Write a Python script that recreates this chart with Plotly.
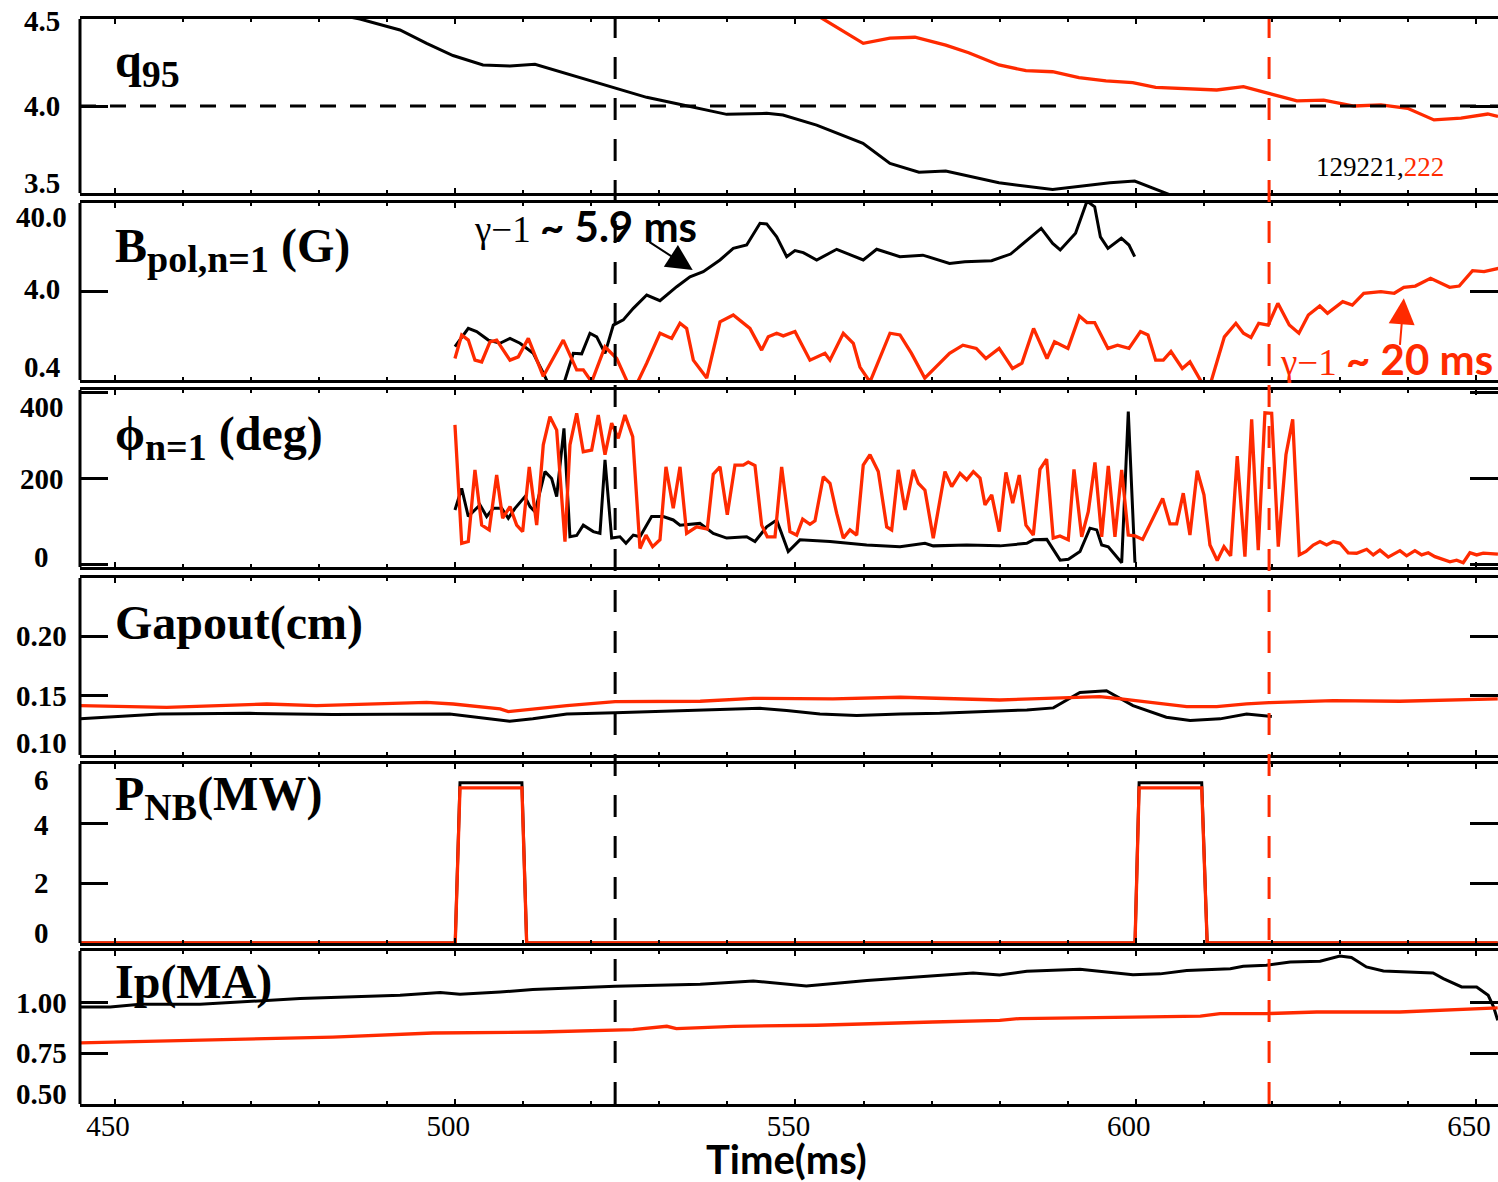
import math
import plotly.graph_objects as go

# ---------------- data ----------------
# q95
q95_t_a = [444.9, 470.0, 486.0, 491.88, 495.80, 499.67, 504.08, 508.05, 511.72, 515.39, 519.32,
           523.72, 528.13, 533.47, 539.89, 545.77, 548.16, 553.11, 559.92, 563.89, 568.15,
           572.08, 579.90, 587.79, 596.22, 599.85, 604.59, 607.0]
q95_a = [4.8, 4.62, 4.50, 4.437, 4.36, 4.29, 4.236, 4.23, 4.24, 4.197, 4.149,
         4.10, 4.05, 4.006, 3.952, 3.958, 3.948, 3.89, 3.786, 3.67, 3.62,
         3.626, 3.559, 3.52, 3.559, 3.569, 3.50, 3.46]
q95_t_b = [549.0, 554.08, 559.96, 563.89, 567.56, 572.08, 575.45, 579.90, 583.87, 587.79, 591.66,
           595.63, 599.56, 602.93, 607.97, 611.91, 615.83, 619.73, 623.69, 627.62, 632.07,
           636.04, 639.95, 643.83, 647.80, 651.74, 653.24]
q95_b = [4.62, 4.50, 4.36, 4.39, 4.395, 4.35, 4.306, 4.236, 4.203, 4.197, 4.163,
         4.144, 4.134, 4.107, 4.10, 4.092, 4.111, 4.073, 4.03, 4.034, 4.0,
         4.006, 3.987, 3.92, 3.93, 3.954, 3.94]
q95_ref = 4.0

# B_pol n=1 amplitude (G)
bp_t_a = [499.96, 501.92, 503.15, 504.86, 506.58, 508.05, 509.52, 511.47, 512.94, 514.66,
          516.13, 517.35, 518.58, 519.80, 520.79, 522.01, 523.23, 524.70, 526.17, 528.14,
          530.09, 532.55, 534.50, 536.45, 538.91, 540.86, 542.83, 544.79, 545.77, 547.24,
          548.71, 549.93, 551.15, 553.12, 556.06, 559.96, 561.93, 565.35, 568.72, 572.64,
          574.89, 578.82, 581.62, 586.11, 587.80, 588.91, 591.16, 592.84, 593.97, 594.81,
          595.92, 597.89, 599.01, 599.85]
bp_a = [0.95, 1.53, 1.41, 1.13, 1.04, 1.18, 1.04, 0.80, 0.48, 0.25,
        0.40, 0.80, 0.79, 1.35, 1.23, 0.80, 1.67, 1.91, 2.58, 3.65,
        3.15, 4.53, 5.87, 6.70, 9.08, 12.3, 13.4, 23.6, 23.2, 16.6,
        9.9, 11.6, 11.0, 9.08, 12.0, 9.08, 12.0, 9.9, 10.3, 8.3,
        8.7, 8.9, 10.6, 20.7, 14.0, 11.8, 18.2, 42.0, 36.3, 16.6,
        12.3, 16.0, 13.4, 9.9]
bp_t_b = [499.96, 500.95, 501.92, 502.90, 503.89, 505.11, 506.09, 508.05, 509.27, 510.74,
          512.94, 515.88, 517.85, 518.82, 520.05, 522.01, 523.73, 525.43, 526.67, 528.14,
          530.09, 531.81, 533.03, 534.01, 534.99, 536.96, 538.91, 540.86, 543.31, 545.03,
          546.00, 547.24, 548.21, 549.93, 552.13, 554.34, 555.07, 557.03, 558.50, 559.48,
          560.95, 563.89, 565.36, 567.05, 569.00, 572.64, 574.61, 576.57, 577.98, 579.93,
          581.90, 583.28, 584.99, 586.96, 588.07, 590.04, 591.72, 592.84, 593.97, 595.92,
          597.33, 599.01, 600.70, 601.80, 602.93, 604.06, 605.18, 606.85, 607.97, 609.66,
          611.06, 613.03, 614.72, 615.83, 616.94, 618.08, 619.48, 620.89, 622.57, 623.98,
          625.37, 627.05, 628.18, 630.42, 631.83, 633.51, 636.03, 638.00, 639.40, 641.09,
          643.33, 646.13, 647.54, 649.50, 651.19, 653.31]
bp_b = [0.70, 1.29, 1.13, 0.67, 0.64, 1.08, 1.13, 0.67, 0.73, 1.18,
        0.44, 1.13, 0.52, 0.52, 0.38, 0.95, 0.70, 0.36, 0.36, 0.62,
        1.35, 1.18, 1.75, 1.53, 0.67, 0.42, 1.82, 2.17, 1.53, 0.87,
        1.23, 1.35, 1.26, 1.41, 0.67, 0.80, 0.67, 1.35, 1.04, 0.56,
        0.38, 1.35, 1.29, 0.80, 0.42, 0.80, 0.99, 0.91, 0.70, 0.91,
        0.54, 0.62, 1.53, 0.70, 1.08, 0.91, 2.11, 1.78, 1.78, 0.91,
        0.99, 0.91, 1.41, 1.29, 0.67, 0.67, 0.84, 0.54, 0.64, 0.38,
        0.38, 1.23, 1.75, 1.35, 1.21, 1.75, 1.67, 2.94, 1.67, 1.35,
        2.17, 2.74, 2.27, 3.07, 2.81, 3.82, 3.98, 3.82, 4.46, 4.61,
        5.64, 4.46, 4.61, 6.87, 6.70, 7.31]

# phi n=1 (deg)
ph_t_a = [499.96, 500.95, 501.92, 502.65, 503.64, 504.62, 505.59, 506.83, 507.80, 508.78,
          510.25, 510.99, 511.72, 513.19, 514.17, 514.91, 515.98, 516.86, 517.85, 518.82,
          520.29, 521.27, 522.01, 522.99, 524.21, 525.09, 526.17, 527.15, 528.86, 530.57,
          532.04, 533.03, 535.96, 537.92, 539.89, 542.83, 544.05, 545.77, 547.24, 548.94,
          550.66, 555.07, 560.46, 565.36, 569.03, 570.25, 575.16, 580.07, 583.99, 584.96,
          586.93, 588.89, 590.11, 591.81, 593.28, 594.27, 595.00, 595.97, 597.94, 598.91,
          599.89]
ph_a = [127, 177, 112, 123, 139, 112, 131, 131, 108, 131,
        158, 135, 123, 216, 200, 158, 316, 65, 68, 92,
        77, 73, 243, 62, 65, 50, 69, 65, 112, 112,
        104, 92, 96, 73, 62, 65, 54, 88, 104, 31,
        58, 54, 46, 42, 50, 44, 46, 44, 50, 58,
        59, 11, 13, 31, 85, 81, 46, 42, 5, 355,
        5]
ph_t_b = [499.96, 500.95, 501.92, 502.90, 503.89, 505.00, 506.09, 506.97, 508.05, 509.03,
          509.91, 510.88, 511.97, 512.94, 513.92, 514.91, 516.13, 516.86, 517.85, 518.82,
          520.05, 521.02, 522.01, 522.99, 523.96, 524.94, 526.08, 527.15, 528.03, 529.01,
          530.09, 530.97, 532.04, 533.03, 534.01, 535.48, 537.04, 537.92, 538.91, 539.98,
          541.11, 542.33, 543.06, 544.05, 545.03, 545.86, 546.99, 547.97, 549.19, 550.18,
          551.06, 552.13, 552.87, 554.09, 555.07, 556.06, 557.03, 558.01, 559.00, 559.96,
          560.95, 562.17, 563.41, 564.14, 565.11, 566.10, 567.32, 568.05, 569.03, 570.25,
          571.97, 572.96, 574.18, 575.16, 576.14, 577.12, 577.85, 578.84, 579.95, 580.93,
          581.92, 582.89, 583.87, 584.95, 585.93, 586.91, 587.88, 588.87, 590.09, 590.93,
          592.06, 593.03, 594.01, 595.00, 595.97, 596.95, 597.94, 598.91, 599.89, 601.02,
          603.96, 605.03, 606.02, 606.99, 607.97, 609.04, 610.03, 610.91, 611.98, 612.97,
          613.95, 614.92, 616.05, 617.04, 618.01, 618.99, 619.98, 620.95, 622.08, 623.07,
          624.04, 625.02, 626.09, 627.08, 628.06, 629.03, 630.01, 631.23, 632.47, 633.94,
          634.91, 635.89, 637.11, 638.83, 639.81, 641.03, 642.02, 642.99, 643.97, 646.18,
          647.16, 648.13, 649.11, 650.10, 651.07, 653.23]
ph_b = [324, 50, 54, 220, 92, 81, 208, 108, 135, 92,
        77, 227, 92, 278, 343, 312, 54, 278, 351, 262,
        266, 347, 255, 328, 293, 347, 297, 38, 69, 42,
        58, 227, 131, 227, 73, 88, 83, 210, 227, 116,
        231, 231, 238, 230, 92, 65, 65, 227, 77, 69,
        106, 94, 102, 204, 189, 119, 62, 81, 69, 231,
        255, 216, 88, 81, 220, 127, 220, 189, 173, 62,
        216, 181, 212, 197, 216, 201, 139, 162, 77, 214,
        143, 208, 92, 69, 221, 245, 62, 67, 58, 221,
        65, 123, 237, 65, 229, 65, 220, 69, 67, 59,
        154, 95, 95, 166, 69, 218, 162, 46, 10, 42,
        21, 252, 19, 337, 34, 352, 351, 42, 255, 337,
        23, 31, 46, 54, 46, 54, 50, 28, 27, 36,
        23, 34, 18, 33, 21, 33, 23, 28, 19, 7,
        11, 5, 28, 23, 27, 25]

# Gapout (cm)
gap_t_a = [444.9, 456.6, 469.8, 482.0, 499.2, 506.6, 508.0, 511.4, 516.4, 523.5, 536.0,
           544.8, 548.7, 553.6, 559.0, 565.4, 571.2, 580.0, 584.0, 587.9, 591.8, 595.7,
           599.6, 604.5, 608.0, 612.4, 616.3, 620.0]
gap_a = [0.1306, 0.1348, 0.1353, 0.1342, 0.1348, 0.1298, 0.1286, 0.1306, 0.1348, 0.1357, 0.1376,
         0.1395, 0.1376, 0.1348, 0.1334, 0.1348, 0.1353, 0.1370, 0.1382, 0.1399, 0.1530, 0.1545,
         0.1418, 0.1320, 0.1292, 0.1306, 0.1348, 0.1325]
gap_t_b = [444.9, 457.6, 472.3, 479.6, 495.8, 499.7, 506.6, 507.8, 516.4, 523.5, 536.0,
           543.8, 555.5, 565.4, 580.0, 587.9, 594.7, 597.2, 602.1, 607.5, 611.9, 616.3,
           619.6, 629.0, 638.8, 653.2]
gap_b = [0.1418, 0.1404, 0.1432, 0.1418, 0.1446, 0.1432, 0.1390, 0.1368, 0.1418, 0.1452, 0.1455,
         0.1480, 0.1475, 0.1489, 0.1466, 0.1483, 0.1494, 0.1480, 0.1446, 0.1410, 0.1410, 0.1433,
         0.1443, 0.1460, 0.1455, 0.1475]

# P_NB (MW)
pnb_t_a = [444.9, 500.0, 500.7, 509.8, 510.5, 599.9, 600.5, 609.7, 610.5, 653.2]
pnb_a = [0, 0, 5.37, 5.37, 0, 0, 5.37, 5.37, 0, 0]
pnb_t_b = [444.9, 500.0, 500.7, 509.8, 510.5, 599.9, 600.5, 609.7, 610.5, 653.2]
pnb_b = [0, 0, 5.2, 5.2, 0, 0, 5.2, 5.2, 0, 0]

# Ip (MA)
ip_t_a = [444.9, 449.3, 453.7, 462.5, 477.2, 491.9, 497.8, 500.7, 506.6, 511.4, 523.5,
          536.0, 543.8, 551.6, 560.5, 565.4, 576.1, 580.0, 584.0, 591.8, 599.6, 603.6,
          607.5, 613.9, 615.8, 619.2, 622.7, 627.1, 630.0, 631.7, 633.9, 636.4, 643.7,
          645.2, 647.9, 650.1, 651.8, 652.6, 653.2]
ip_a = [0.975, 0.975, 0.989, 0.989, 1.017, 1.033, 1.046, 1.038, 1.049, 1.061, 1.077,
        1.087, 1.103, 1.078, 1.106, 1.118, 1.142, 1.133, 1.151, 1.160, 1.134, 1.138,
        1.155, 1.163, 1.175, 1.180, 1.196, 1.200, 1.225, 1.218, 1.172, 1.152, 1.142,
        1.115, 1.074, 1.074, 1.033, 0.975, 0.910]
ip_t_b = [444.9, 462.5, 482.0, 496.7, 506.6, 512.5, 526.1, 531.1, 532.5, 540.9, 553.1,
          560.5, 570.2, 580.0, 583.0, 599.6, 609.5, 612.4, 619.2, 626.6, 638.8, 653.2]
ip_b = [0.800, 0.812, 0.828, 0.848, 0.853, 0.853, 0.865, 0.881, 0.870, 0.881, 0.886,
        0.894, 0.902, 0.910, 0.919, 0.926, 0.931, 0.943, 0.943, 0.951, 0.951, 0.971]

# event markers (ms)
t_onset_a = 523.5
t_onset_b = 619.6

# growth-time annotations: arrow tips (t, B_pol)
tip_a = (534.9, 7.0)
tip_b = (639.4, 3.35)

shot_a = "129221,"
shot_b = "222"

x_ticks = [450, 500, 550, 600, 650]

# per-panel y ticks: values and their labels
y_ticks = [
    ([4.5, 4.0, 3.5], ["4.5", "4.0", "3.5"]),
    ([40.0, 4.0, 0.4], ["40.0", "4.0", "0.4"]),
    ([400, 200, 0], ["400", "200", "0"]),
    ([0.20, 0.15, 0.10], ["0.20", "0.15", "0.10"]),
    ([6, 4, 2, 0], ["6", "4", "2", "0"]),
    ([1.00, 0.75, 0.50], ["1.00", "0.75", "0.50"]),
]
SUB = '<sub><span style="font-size:38px">%s</span></sub>'
panel_titles = [
    "<b>q" + SUB % "95" + "</b>",
    "<b>B" + SUB % "pol,n=1" + " (G)</b>",
    "<b>ϕ" + SUB % "n=1" + " (deg)</b>",
    "<b>Gapout(cm)</b>",
    "<b>P" + SUB % "NB" + "(MW)</b>",
    "<b>Ip(MA)</b>",
]

# ---------------- styling ----------------
BLACK = "#000000"
RED = "#ff2a00"
SERIF = "Liberation Serif, Times New Roman, serif"
SANS = "Lato, Open Sans, sans-serif"

X_RANGE = [444.86, 653.24]
Y_RANGES = [[3.5, 4.5], [math.log10(0.4), math.log10(40)], [-5, 405],
            [0.10, 0.25], [0, 6], [0.5, 1.25]]
Y_TYPES = ["linear", "log", "linear", "linear", "linear", "linear"]
DOMAINS = [[0.8396, 1.0], [0.6673, 0.8304], [0.4949, 0.6581],
           [0.3217, 0.4848], [0.1484, 0.3134], [0.0, 0.1410]]
# vertical nudges (px) of each y tick label, to keep end labels inside their panel
LABEL_SHIFTS = [[-2, 0, 10], [-14, 2, 13], [-15, 0, 8], [1, 0, 12], [-16, -1, 0, 10], [-1, 0, 10]]
TITLE_Y = [0.74, 0.74, 0.73, 0.745, 0.81, 0.80]

series = [
    (1, q95_t_a, q95_a, BLACK), (1, q95_t_b, q95_b, RED),
    (2, bp_t_a, bp_a, BLACK), (2, bp_t_b, bp_b, RED),
    (3, ph_t_a, ph_a, BLACK), (3, ph_t_b, ph_b, RED),
    (4, gap_t_a, gap_a, BLACK), (4, gap_t_b, gap_b, RED),
    (5, pnb_t_a, pnb_a, BLACK), (5, pnb_t_b, pnb_b, RED),
    (6, ip_t_a, ip_a, BLACK), (6, ip_t_b, ip_b, RED),
]


def ax(kind, i):
    return kind + ("" if i == 1 else str(i))


fig = go.Figure()
for panel, t, v, col in series:
    fig.add_trace(go.Scatter(
        x=t, y=v, mode="lines",
        line=dict(color=col, width=3.3 if col == RED else 3),
        xaxis=ax("x", panel), yaxis=ax("y", panel),
        showlegend=False, hoverinfo="skip"))

layout = dict(
    width=1498, height=1182,
    margin=dict(l=80, r=0, t=19, b=78),
    plot_bgcolor="white", paper_bgcolor="white",
    showlegend=False,
)

for i in range(1, 7):
    layout[ax("xaxis", i)] = dict(
        domain=[0, 1], anchor=ax("y", i), range=X_RANGE,
        showline=True, linewidth=3, linecolor=BLACK, mirror="ticks",
        ticks="inside", ticklen=5, tickwidth=2, tickcolor=BLACK,
        tickvals=x_ticks, ticktext=[str(v) for v in x_ticks],
        minor=dict(dtick=10, tick0=450, ticks="inside", ticklen=3, tickwidth=1.5, tickcolor=BLACK),
        showgrid=False, zeroline=False,
        showticklabels=(i == 6),
        tickfont=dict(family=SERIF, size=29, color=BLACK),
        ticklabelshift=-7, ticklabelstandoff=-6,
    )
    if i > 1:
        layout[ax("xaxis", i)]["matches"] = "x"
    vals, _ = y_ticks[i - 1]
    # left frame edge is drawn as a shape; the axis itself only carries the
    # long inward ticks, mirrored onto the right side
    layout[ax("yaxis", i)] = dict(
        domain=DOMAINS[i - 1], anchor=ax("x", i), type=Y_TYPES[i - 1],
        range=Y_RANGES[i - 1],
        showline=False, mirror="ticks",
        ticks="inside", ticklen=28, tickwidth=3, tickcolor=BLACK,
        tickvals=vals, showticklabels=False,
        showgrid=False, zeroline=False,
    )

fig.update_layout(**layout)

annotations = []
# y tick labels
for i in range(1, 7):
    vals, texts = y_ticks[i - 1]
    for k, (v, txt) in enumerate(zip(vals, texts)):
        yv = math.log10(v) if Y_TYPES[i - 1] == "log" else v
        annotations.append(dict(
            text="<b>" + txt + "</b>", x=-0.0268, xref="paper", xanchor="center",
            y=yv, yref=ax("y", i), yanchor="middle", yshift=LABEL_SHIFTS[i - 1][k],
            showarrow=False, font=dict(family=SERIF, size=29, color=BLACK)))
# panel titles
for i in range(1, 7):
    annotations.append(dict(
        text=panel_titles[i - 1], x=0.0233, xref="paper", xanchor="left",
        y=TITLE_Y[i - 1], yref=ax("y", i) + " domain", yanchor="middle",
        showarrow=False, font=dict(family=SERIF, size=48, color=BLACK)))

# growth time labels
annotations.append(dict(
    text='γ−1 <b><span style="font-family:Lato;font-size:42px">~ 5.9 ms</span></b>',
    x=0.2764, xref="paper", xanchor="left", y=0.87, yref="y2 domain", yanchor="middle",
    showarrow=False, font=dict(family=SERIF, size=37, color=BLACK)))
annotations.append(dict(
    text='γ−1 <b><span style="font-family:Lato;font-size:42px">~ 20 ms</span></b>',
    x=0.8449, xref="paper", xanchor="left", y=0.12, yref="y2 domain", yanchor="middle",
    showarrow=False, font=dict(family=SERIF, size=37, color=RED)))
# arrows pointing at the growing mode
annotations.append(dict(
    text="", x=tip_a[0], xref="x2", y=math.log10(tip_a[1]), yref="y2",
    showarrow=True, arrowhead=2, arrowsize=2.6, arrowwidth=2, arrowcolor=BLACK,
    ax=-45, ay=-29, standoff=0))
annotations.append(dict(
    text="", x=tip_b[0], xref="x2", y=math.log10(tip_b[1]), yref="y2",
    showarrow=True, arrowhead=2, arrowsize=2.6, arrowwidth=2, arrowcolor=RED,
    ax=-4, ay=48, standoff=0))
# shot numbers
annotations.append(dict(
    text=shot_a + '<span style="color:%s">%s</span>' % (RED, shot_b),
    x=0.8702, xref="paper", xanchor="left", y=0.149, yref="y domain", yanchor="middle",
    showarrow=False, font=dict(family=SERIF, size=27, color=BLACK)))
# x axis title
annotations.append(dict(
    text="<b>Time(ms)</b>", x=0.4979, xref="paper", xanchor="center",
    y=-0.0505, yref="paper", yanchor="middle", borderpad=0,
    showarrow=False, font=dict(family=SANS, size=40, color=BLACK)))

shapes = []
# left frame edge of every panel
for i in range(1, 7):
    shapes.append(dict(type="line", xref=ax("x", i) + " domain", yref=ax("y", i) + " domain",
                       x0=0, x1=0, y0=0, y1=1, line=dict(color=BLACK, width=3)))
shapes += [
    dict(type="line", xref="x", yref="paper", x0=t_onset_a, x1=t_onset_a, y0=0, y1=1,
         line=dict(color=BLACK, width=3, dash="22px,19px")),
    dict(type="line", xref="x", yref="paper", x0=t_onset_b, x1=t_onset_b, y0=0, y1=1,
         line=dict(color=RED, width=3, dash="22px,19px")),
    dict(type="line", xref="x", yref="y", x0=X_RANGE[0], x1=X_RANGE[1], y0=q95_ref, y1=q95_ref,
         line=dict(color=BLACK, width=3, dash="16px,14px")),
]

fig.update_layout(annotations=annotations, shapes=shapes)
fig.write_html("out.html", config={"displayModeBar": False})
